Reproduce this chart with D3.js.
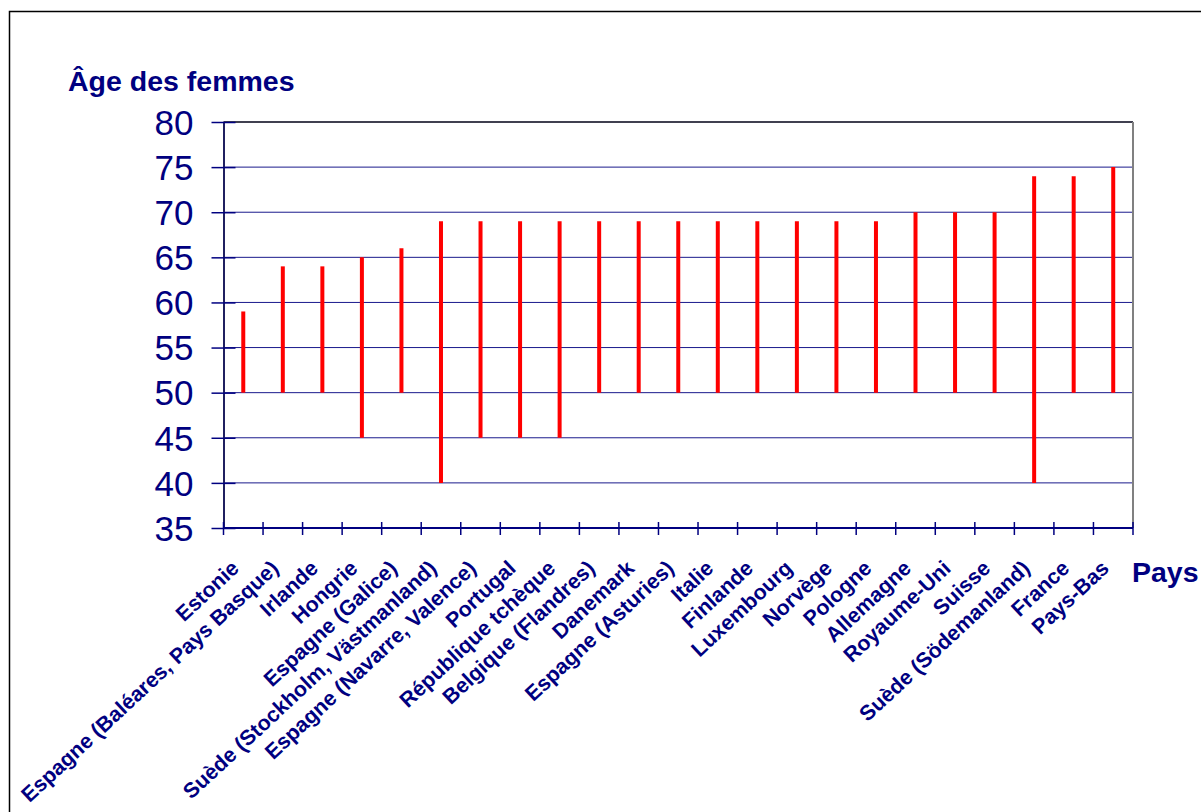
<!DOCTYPE html>
<html><head><meta charset="utf-8">
<script src="https://cdn.jsdelivr.net/npm/d3@7"></script>
<style>body{margin:0;background:#fff;}svg{display:block;}text{font-family:Arial,"Liberation Sans",sans-serif;}</style>
</head><body>
<svg id="chart" width="1201" height="812"></svg>
<script>
const countries = ["Estonie","Espagne (Baléares, Pays Basque)","Irlande","Hongrie","Espagne (Galice)","Suède (Stockholm, Västmanland)","Espagne (Navarre, Valence)","Portugal","République tchèque","Belgique (Flandres)","Danemark","Espagne (Asturies)","Italie","Finlande","Luxembourg","Norvège","Pologne","Allemagne","Royaume-Uni","Suisse","Suède (Södemanland)","France","Pays-Bas"];
const ageMin = [50,50,50,45,50,40,45,45,45,50,50,50,50,50,50,50,50,50,50,50,40,50,50];
const ageMax = [59,64,64,65,66,69,69,69,69,69,69,69,69,69,69,69,69,70,70,70,74,74,75];
const yTicks = [35,40,45,50,55,60,65,70,75,80];
const yTitle = "Âge des femmes";
const xTitle = "Pays";

const svg = d3.select("#chart");
const navy = "#000080";
const L = 223.5, R = 1133, T = 122, B = 528;

svg.append("rect").attr("x",9.5).attr("y",11.5).attr("width",1200).attr("height",810)
  .attr("fill","none").attr("stroke","#000").attr("stroke-width",1.5);

const x = d3.scaleBand().domain(countries).range([L,R]).padding(0);
const y = d3.scaleLinear().domain([35,80]).range([B,T]);

// gridlines
svg.append("g").selectAll("line").data(yTicks.filter(v=>v>35 && v<80)).join("line")
  .attr("x1",L).attr("x2",R).attr("y1",d=>y(d)).attr("y2",d=>y(d))
  .attr("stroke",navy).attr("stroke-width",1).attr("stroke-opacity",0.9);

// top and right border of plot
svg.append("line").attr("x1",L).attr("x2",R).attr("y1",T).attr("y2",T).attr("stroke","#404050").attr("stroke-width",2);
svg.append("line").attr("x1",R).attr("x2",R).attr("y1",T).attr("y2",B).attr("stroke","#808080").attr("stroke-width",2);

// y axis
const yAxis = d3.axisLeft(y).tickValues(yTicks).tickSize(0).tickPadding(30);
const gy = svg.append("g").attr("transform",`translate(${L},0)`).call(yAxis);
gy.select(".domain").attr("stroke","#202060").attr("stroke-width",2);
gy.selectAll(".tick text").attr("font-size",35).attr("fill",navy).attr("dy","0.35em").attr("x",-30);
gy.selectAll(".tick").append("line").attr("x1",-12).attr("x2",12).attr("stroke",navy).attr("stroke-width",1.5);

// x axis
const gx = svg.append("g").attr("transform",`translate(0,${B})`);
gx.append("line").attr("x1",L).attr("x2",R).attr("stroke",navy).attr("stroke-width",2);
const bounds = countries.map(c=>x(c)).concat([x(countries[countries.length-1])+x.bandwidth()]);
gx.selectAll("line.tk").data(bounds).join("line").attr("class","tk")
  .attr("x1",d=>d).attr("x2",d=>d).attr("y1",-6).attr("y2",7).attr("stroke",navy).attr("stroke-width",1.5);

// bars
svg.append("g").selectAll("line").data(countries).join("line")
  .attr("x1",d=>x(d)+x.bandwidth()/2).attr("x2",d=>x(d)+x.bandwidth()/2)
  .attr("y1",(d,i)=>y(ageMin[i])).attr("y2",(d,i)=>y(ageMax[i]))
  .attr("stroke","#ff0000").attr("stroke-width",4);

// category labels
svg.append("g").selectAll("text").data(countries).join("text")
  .attr("transform",d=>`translate(${x(d)+x.bandwidth()/2-3},570) rotate(-43)`)
  .attr("text-anchor","end").attr("font-size",21.3).attr("font-weight","bold").attr("fill",navy)
  .text(d=>d);

svg.append("text").attr("x",68).attr("y",91).attr("font-size",28.5).attr("font-weight","bold").attr("fill",navy).text(yTitle);
svg.append("text").attr("x",1132).attr("y",582).attr("font-size",28.5).attr("font-weight","bold").attr("fill",navy).text(xTitle);
</script>
</body></html>
